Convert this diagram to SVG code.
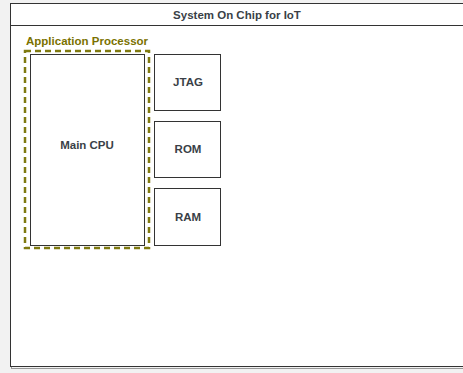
<svg xmlns="http://www.w3.org/2000/svg" width="463" height="373" viewBox="0 0 463 373">
<style>
.box{fill:#fff;stroke:#333;stroke-width:1}
.shadow{fill:none;stroke:#999;stroke-width:1}
.lbl{font-family:"Liberation Sans",Arial,sans-serif;font-weight:bold;font-size:11.5px;fill:#3a3f47;text-anchor:middle}
.grp{fill:none;stroke:#7f7a10;stroke-width:2.5;stroke-dasharray:6 4}
.glbl{font-family:"Liberation Sans",Arial,sans-serif;font-weight:bold;font-size:11.5px;fill:#7a7200}
</style>
<rect x="0" y="0" width="463" height="373" fill="#f2f2f2"/>
<g id="soc">
<rect x="11.5" y="4.5" width="460" height="364" class="shadow"/>
<rect x="10.5" y="3.5" width="460" height="363" class="box"/>
<line x1="10.5" y1="25.5" x2="463" y2="25.5" stroke="#333" stroke-width="1"/>
<text x="237" y="19" class="lbl">System On Chip for IoT</text>
</g>
<g id="app-processor">
<rect x="25" y="51" width="124" height="197" class="grp"/>
<text x="26" y="45" class="glbl">Application Processor</text>
</g>
<g id="main-cpu">
<rect x="30.5" y="54.5" width="114" height="191" class="box"/>
<text x="87" y="149" class="lbl">Main CPU</text>
</g>
<g id="jtag">
<rect x="154.5" y="54.5" width="66" height="56" class="box"/>
<text x="188" y="86" class="lbl">JTAG</text>
</g>
<g id="rom">
<rect x="154.5" y="121.5" width="66" height="56" class="box"/>
<text x="188" y="153" class="lbl">ROM</text>
</g>
<g id="ram">
<rect x="154.5" y="188.5" width="66" height="57" class="box"/>
<text x="188" y="221" class="lbl">RAM</text>
</g>
<g id="connectors"/>
</svg>
